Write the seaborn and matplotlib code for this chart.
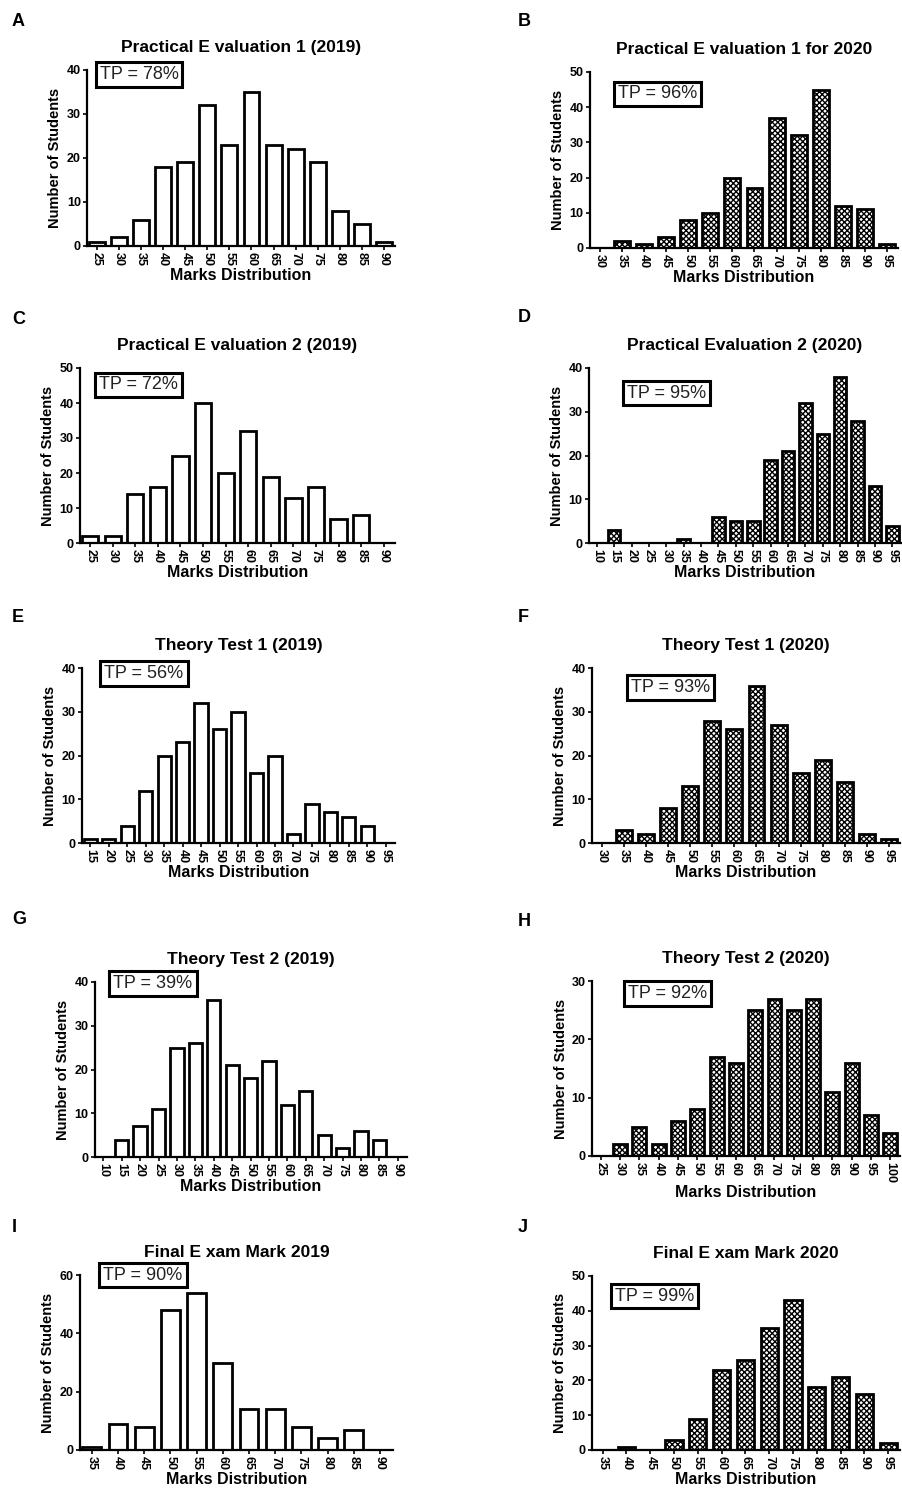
import pandas as pd
import matplotlib.pyplot as plt
import seaborn as sns

# Marks bins and student counts per panel
marks_a = ['25', '30', '35', '40', '45', '50', '55', '60', '65', '70', '75', '80', '85', '90']
counts_a = [1, 2, 6, 18, 19, 32, 23, 35, 23, 22, 19, 8, 5, 1]

marks_b = ['30', '35', '40', '45', '50', '55', '60', '65', '70', '75', '80', '85', '90', '95']
counts_b = [0, 2, 1, 3, 8, 10, 20, 17, 37, 32, 45, 12, 11, 1]

marks_c = ['25', '30', '35', '40', '45', '50', '55', '60', '65', '70', '75', '80', '85', '90']
counts_c = [2, 2, 14, 16, 25, 40, 20, 32, 19, 13, 16, 7, 8, 0]

marks_d = ['10', '15', '20', '25', '30', '35', '40', '45', '50', '55', '60', '65', '70', '75',
           '80', '85', '90', '95']
counts_d = [0, 3, 0, 0, 0, 1, 0, 6, 5, 5, 19, 21, 32, 25, 38, 28, 13, 4]

marks_e = ['15', '20', '25', '30', '35', '40', '45', '50', '55', '60', '65', '70', '75', '80',
           '85', '90', '95']
counts_e = [1, 1, 4, 12, 20, 23, 32, 26, 30, 16, 20, 2, 9, 7, 6, 4, 0]

marks_f = ['30', '35', '40', '45', '50', '55', '60', '65', '70', '75', '80', '85', '90', '95']
counts_f = [0, 3, 2, 8, 13, 28, 26, 36, 27, 16, 19, 14, 2, 1]

marks_g = ['10', '15', '20', '25', '30', '35', '40', '45', '50', '55', '60', '65', '70', '75',
           '80', '85', '90']
counts_g = [0, 4, 7, 11, 25, 26, 36, 21, 18, 22, 12, 15, 5, 2, 6, 4, 0]

marks_h = ['25', '30', '35', '40', '45', '50', '55', '60', '65', '70', '75', '80', '85', '90',
           '95', '100']
counts_h = [0, 2, 5, 2, 6, 8, 17, 16, 25, 27, 25, 27, 11, 16, 7, 4]

marks_i = ['35', '40', '45', '50', '55', '60', '65', '70', '75', '80', '85', '90']
counts_i = [1, 9, 8, 48, 54, 30, 14, 14, 8, 4, 7, 0]

marks_j = ['35', '40', '45', '50', '55', '60', '65', '70', '75', '80', '85', '90', '95']
counts_j = [0, 1, 0, 3, 9, 23, 26, 35, 43, 18, 21, 16, 2]

titles = ['Practical E valuation 1 (2019)', 'Practical E valuation 1 for 2020',
          'Practical E valuation 2 (2019)', 'Practical Evaluation 2 (2020)',
          'Theory Test 1 (2019)', 'Theory Test 1 (2020)',
          'Theory Test 2 (2019)', 'Theory Test 2 (2020)',
          'Final E xam Mark 2019', 'Final E xam Mark 2020']
tp_labels = ['TP = 78%', 'TP = 96%', 'TP = 72%', 'TP = 95%', 'TP = 56%',
             'TP = 93%', 'TP = 39%', 'TP = 92%', 'TP = 90%', 'TP = 99%']
letters = ['A', 'B', 'C', 'D', 'E', 'F', 'G', 'H', 'I', 'J']
y_max = [40, 50, 50, 40, 40, 40, 40, 30, 60, 50]
y_step = [10, 10, 10, 10, 10, 10, 10, 10, 20, 10]

marks = [marks_a, marks_b, marks_c, marks_d, marks_e, marks_f, marks_g, marks_h, marks_i, marks_j]
counts = [counts_a, counts_b, counts_c, counts_d, counts_e, counts_f, counts_g, counts_h,
          counts_i, counts_j]

# axes extents in pixels: x0, x1, top, bottom
W, H = 903, 1488
boxes = [(87, 395, 70, 246), (590, 898, 72, 248),
         (80, 395, 368, 543), (589, 901, 368, 543),
         (82, 395, 668, 843), (592, 900, 668, 843),
         (95, 407, 982, 1157), (592, 900, 981, 1156),
         (80, 393, 1275, 1450), (592, 900, 1276, 1450)]
tp_pos = [(0.169, 0.977), (0.219, 0.875), (0.187, 0.903), (0.248, 0.857), (0.198, 0.966),
          (0.254, 0.891), (0.186, 0.989), (0.245, 0.926), (0.201, 1.0), (0.203, 0.885)]
letter_pos = [(12, 22), (518, 22), (12, 320), (518, 318), (12, 618),
              (518, 617), (12, 920), (518, 922), (12, 1228), (518, 1228)]

sns.set_theme(style="ticks")
plt.rcParams['font.family'] = ['Liberation Sans', 'DejaVu Sans']
plt.rcParams['hatch.linewidth'] = 1.0
plt.rcParams['text.color'] = 'black'
plt.rcParams['axes.labelcolor'] = 'black'

fig = plt.figure(figsize=(W / 100, H / 100), dpi=100)

for i in range(10):
    x0, x1, top, bot = boxes[i]
    ax = fig.add_axes([x0 / W, 1 - bot / H, (x1 - x0) / W, (bot - top) / H])
    df = pd.DataFrame({'Marks': marks[i], 'Students': counts[i]})
    hatch = 'xxxxxx' if i % 2 == 1 else None
    sns.barplot(data=df, x='Marks', y='Students', order=marks[i], color='white',
                edgecolor='black', linewidth=2.0, width=0.72, hatch=hatch, ax=ax)
    n = len(marks[i])
    ax.set_xlim(-0.45, n - 0.5)
    ax.set_ylim(0, y_max[i])
    ax.set_yticks(range(0, y_max[i] + 1, y_step[i]))
    sns.despine(ax=ax)
    for s in ['left', 'bottom']:
        ax.spines[s].set_linewidth(1.6)
        ax.spines[s].set_color('black')
    ax.tick_params(axis='both', length=3, width=1.2, colors='black', pad=1.5)
    ax.tick_params(axis='x', labelrotation=-90)
    for lab in ax.get_xticklabels() + ax.get_yticklabels():
        lab.set_fontsize(9)
        lab.set_fontweight('bold')
    ax.set_xlabel('Marks Distribution', fontsize=11.5, fontweight='bold', labelpad=1)
    ax.set_ylabel('Number of Students', fontsize=10.5, fontweight='bold', labelpad=3)
    ax.set_title(titles[i], fontsize=12.5, fontweight='bold', pad=13, color='black')
    ax.text(tp_pos[i][0], tp_pos[i][1], tp_labels[i], transform=ax.transAxes,
            ha='center', va='center', fontsize=13, color='#222222', clip_on=False,
            bbox=dict(boxstyle='square,pad=0.22', facecolor='white', edgecolor='black',
                      linewidth=2.2))
    fig.text(letter_pos[i][0] / W, 1 - letter_pos[i][1] / H, letters[i],
             fontsize=13, fontweight='bold', ha='left', va='center', color='black')

plt.savefig('out.png', dpi=100, facecolor='white')
